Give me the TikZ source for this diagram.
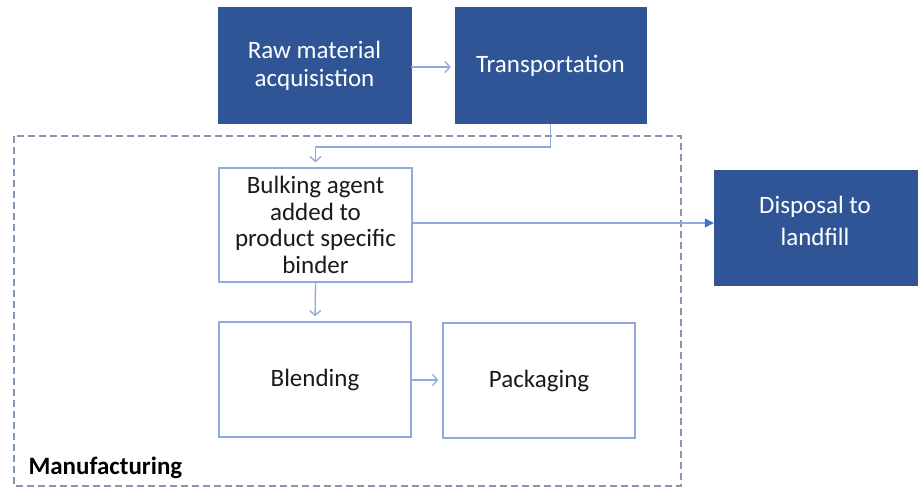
\documentclass[tikz,border=0pt]{standalone}
\usepackage{fontspec}
\setmainfont{Carlito}
\usetikzlibrary{arrows.meta}
\definecolor{darkblue}{HTML}{2F5597}
\definecolor{lineblue}{HTML}{8FAADC}
\definecolor{headblue}{HTML}{4472C4}
\definecolor{dashgray}{HTML}{8497B0}
\definecolor{txt}{HTML}{1A1A1A}
\tikzset{
  darkbox/.style={draw=darkblue, fill=darkblue, text=white, align=center, inner sep=0pt,
    font=\fontsize{25}{28}\selectfont},
  lightbox/.style={draw=lineblue, line width=1.3pt, fill=white, text=txt, align=center, inner sep=0pt,
    font=\fontsize{25}{26.7}\selectfont},
  flow/.style={draw=lineblue, line width=1.3pt, -{Straight Barb[length=5pt,width=11pt]}},
  flowfill/.style={draw=lineblue, line width=1.3pt, -{Triangle[length=9pt,width=9pt,color=headblue,fill=headblue]}},
}
\begin{document}
\begin{tikzpicture}[x=1pt,y=-1pt]
\useasboundingbox (0,0) rectangle (918,489);
\fill[white] (0,0) rectangle (918,489);
% frame
\draw[dashgray, line width=1.3pt, dash pattern=on 7pt off 4pt] (14,136) rectangle (681,486);
\node[anchor=west, text=black, font=\fontsize{25}{27}\selectfont\bfseries] (mlabel) at (25,468) {Manufacturing};
% nodes
\node[darkbox, minimum width=193pt, minimum height=116pt] (raw) at (314.5,65.5) {Raw material\\acquisistion};
\node[darkbox, minimum width=191pt, minimum height=116pt] (trans) at (550.5,65.5) {Transportation};
\node[darkbox, minimum width=205pt, minimum height=115pt] (disp) at (816.5,227.5) {};
\node[text=white, align=center, inner sep=0pt, font=\fontsize{25}{32}\selectfont] (disptxt) at (815,221) {Disposal to\\landfill};
\node[lightbox, minimum width=193pt, minimum height=114pt] (bulk) at (315.5,225) {Bulking agent\\added to\\product specific\\binder};
\node[lightbox, minimum width=192pt, minimum height=115pt] (blend) at (315,379.5) {Blending};
\node[lightbox, minimum width=192pt, minimum height=115pt] (pack) at (539,380.5) {Packaging};
% connectors
\coordinate (c1) at (550.5,147);
\coordinate (c2) at (315.5,147);
\draw[flow, shorten >=4pt] (raw.east |- 0,67) -- (trans.west |- 0,67);
\draw[flow, shorten >=5pt] (trans.south) -- (c1) -- (c2) -- (bulk.north);
\draw[flowfill] (bulk.east |- 0,223) -- (disp.west |- 0,223);
\draw[flow, shorten >=5pt] (bulk.south) -- (blend.north);
\draw[flow, shorten >=4pt] (blend.east |- 0,380) -- (pack.west |- 0,380);
\end{tikzpicture}
\end{document}
